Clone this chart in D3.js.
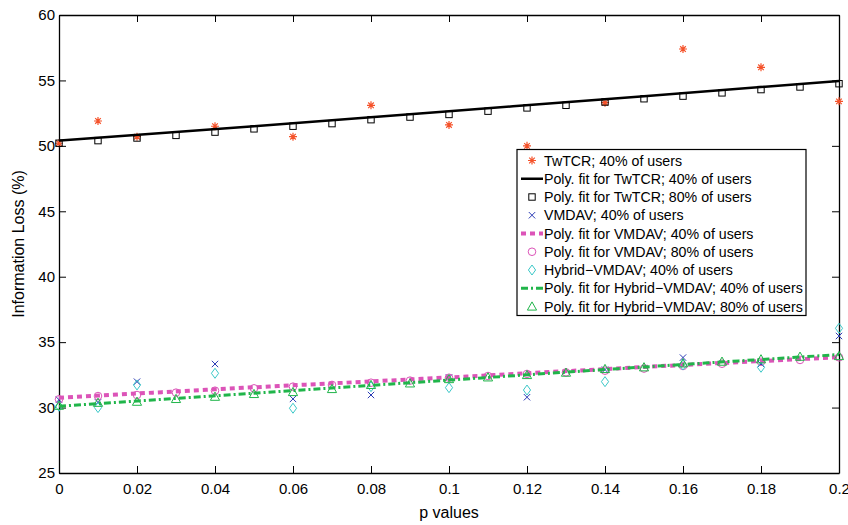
<!DOCTYPE html>
<html>
<head>
<meta charset="utf-8">
<script src="https://cdn.jsdelivr.net/npm/d3@7"></script>
<style>
  body { margin: 0; background: #fff; }
  svg { display: block; font-family: "Liberation Sans", Arial, sans-serif; }
</style>
</head>
<body>
<div id="chart"></div>
<script>
"use strict";

// p values for the 80% series (every 0.01) and the 40% series
const pAll = [0, 0.01, 0.02, 0.03, 0.04, 0.05, 0.06, 0.07, 0.08, 0.09, 0.1,
              0.11, 0.12, 0.13, 0.14, 0.15, 0.16, 0.17, 0.18, 0.19, 0.2];
const pSparse = [0, 0.01, 0.02, 0.04, 0.06, 0.08, 0.1, 0.12, 0.14, 0.16, 0.18, 0.2];
const pFit = [0, 0.05, 0.1, 0.15, 0.2];

const twtcr40 = [50.2, 51.9, 50.7, 51.5, 50.7, 53.1, 51.6, 50.0, 53.3, 57.4, 56.0, 53.4];
const twtcr80 = [50.2, 50.4, 50.6, 50.8, 51.05, 51.3, 51.5, 51.7, 52.0, 52.2, 52.4,
                 52.65, 52.9, 53.1, 53.35, 53.6, 53.8, 54.05, 54.3, 54.5, 54.75];
const twtcrFit = [50.4, 51.5, 52.65, 53.8, 54.96];

const vmdav40 = [30.6, 30.4, 31.98, 33.33, 30.66, 30.96, 32.3, 30.79, 32.9, 33.82, 33.33, 35.47];
const vmdav80 = [30.63, 30.88, 30.96, 31.14, 31.29, 31.47, 31.6, 31.73, 31.9, 32.06, 32.28,
                 32.41, 32.57, 32.69, 32.82, 32.98, 33.18, 33.35, 33.5, 33.64, 33.84];
const vmdavFit = [30.75, 31.55, 32.3, 33.1, 33.85];

const hybrid40 = [30.1, 30.0, 31.73, 32.62, 29.95, 31.6, 31.52, 31.34, 31.98, 33.25, 33.08, 36.06];
const hybrid80 = [30.14, 30.37, 30.45, 30.66, 30.83, 31.04, 31.19, 31.42, 31.73, 31.85, 32.18,
                  32.31, 32.49, 32.67, 32.95, 33.08, 33.38, 33.51, 33.69, 33.89, 33.94];
const hybridFit = [30.1, 31.1, 32.1, 33.1, 34.05];

const xTicks = [0, 0.02, 0.04, 0.06, 0.08, 0.1, 0.12, 0.14, 0.16, 0.18, 0.2];
const yTicks = [25, 30, 35, 40, 45, 50, 55, 60];

const legendLabels = [
    "TwTCR; 40% of users",
    "Poly. fit for TwTCR; 40% of users",
    "Poly. fit for TwTCR; 80% of users",
    "VMDAV; 40% of users",
    "Poly. fit for VMDAV; 40% of users",
    "Poly. fit for VMDAV; 80% of users",
    "Hybrid\u2212VMDAV; 40% of users",
    "Poly. fit for Hybrid\u2212VMDAV; 40% of users",
    "Poly. fit for Hybrid\u2212VMDAV; 80% of users"
];

const width = 848, height = 525;
const mLeft = 59, mRight = 839, mTop = 15, mBottom = 473;

const cOrange = "#f5522a", cBlue = "#2b3bb5", cPink = "#dc54b8",
      cCyan = "#3cc8c8", cGreen = "#20b54a";

const x = d3.scaleLinear([0, 0.2], [mLeft, mRight]);
const y = d3.scaleLinear([25, 60], [mBottom, mTop]);

const svg = d3.select("#chart").append("svg")
    .attr("width", width)
    .attr("height", height);

// axes (MATLAB-style box with inward ticks)
const tick = 7;
svg.append("g")
    .attr("transform", `translate(0,${mBottom})`)
    .call(d3.axisBottom(x).tickValues(xTicks).tickSizeInner(-tick).tickSizeOuter(0)
        .tickPadding(10).tickFormat(d3.format("~g")))
    .call(g => g.select(".domain").attr("stroke-width", 1.3))
    .call(g => g.selectAll("text").attr("font-size", 15).attr("fill", "#000")
        .attr("font-family", "Liberation Sans, Arial, sans-serif"));

svg.append("g")
    .attr("transform", `translate(0,${mTop})`)
    .call(d3.axisTop(x).tickValues(xTicks).tickSizeInner(-tick).tickSizeOuter(0).tickFormat(""))
    .call(g => g.select(".domain").attr("stroke-width", 1.3));

svg.append("g")
    .attr("transform", `translate(${mLeft},0)`)
    .call(d3.axisLeft(y).tickValues(yTicks).tickSizeInner(-tick).tickSizeOuter(0).tickPadding(4))
    .call(g => g.select(".domain").attr("stroke-width", 1.3))
    .call(g => g.selectAll("text").attr("font-size", 15).attr("fill", "#000")
        .attr("font-family", "Liberation Sans, Arial, sans-serif"));

svg.append("g")
    .attr("transform", `translate(${mRight},0)`)
    .call(d3.axisRight(y).tickValues(yTicks).tickSizeInner(-tick).tickSizeOuter(0).tickFormat(""))
    .call(g => g.select(".domain").attr("stroke-width", 1.3));

svg.append("text")
    .attr("x", (mLeft + mRight) / 2)
    .attr("y", 518)
    .attr("text-anchor", "middle")
    .attr("font-size", 16)
    .text("p values");

svg.append("text")
    .attr("transform", `translate(24,${(mTop + mBottom) / 2}) rotate(-90)`)
    .attr("text-anchor", "middle")
    .attr("font-size", 16)
    .text("Information Loss (%)");

// marker shapes drawn around (0,0)
function drawMarker(g, type, color) {
    if (type === "star") {
        const r = 4;
        const d = `M${-r},0H${r}M0,${-r}V${r}M${-r*0.7},${-r*0.7}L${r*0.7},${r*0.7}M${-r*0.7},${r*0.7}L${r*0.7},${-r*0.7}`;
        g.append("path").attr("d", d).attr("stroke", color).attr("stroke-width", 1.2).attr("fill", "none");
    } else if (type === "square") {
        g.append("rect").attr("x", -3.2).attr("y", -3.2).attr("width", 6.4).attr("height", 6.4)
            .attr("fill", "none").attr("stroke", color).attr("stroke-width", 1);
    } else if (type === "cross") {
        const r = 3.2;
        g.append("path").attr("d", `M${-r},${-r}L${r},${r}M${-r},${r}L${r},${-r}`)
            .attr("stroke", color).attr("stroke-width", 1).attr("fill", "none");
    } else if (type === "circle") {
        g.append("circle").attr("r", 3.8).attr("fill", "none").attr("stroke", color).attr("stroke-width", 1);
    } else if (type === "diamond") {
        g.append("path").attr("d", "M0,-5L3.6,0L0,5L-3.6,0Z")
            .attr("fill", "none").attr("stroke", color).attr("stroke-width", 1);
    } else if (type === "triangle") {
        g.append("path").attr("d", "M0,-4.6L4.6,3.6L-4.6,3.6Z")
            .attr("fill", "none").attr("stroke", color).attr("stroke-width", 1);
    }
}

function scatter(ps, vals, type, color) {
    const g = svg.append("g");
    ps.forEach((p, i) => {
        const m = g.append("g").attr("transform", `translate(${x(p)},${y(vals[i])})`);
        drawMarker(m, type, color);
    });
}

const line = d3.line().x(d => x(d[0])).y(d => y(d[1])).curve(d3.curveMonotoneX);

function fitLine(vals, color, w, dash) {
    svg.append("path")
        .attr("d", line(pFit.map((p, i) => [p, vals[i]])))
        .attr("fill", "none")
        .attr("stroke", color)
        .attr("stroke-width", w)
        .attr("stroke-dasharray", dash);
}

scatter(pSparse, twtcr40, "star", cOrange);
fitLine(twtcrFit, "#000", 2.5, null);
scatter(pAll, twtcr80, "square", "#000");
scatter(pSparse, vmdav40, "cross", cBlue);
fitLine(vmdavFit, cPink, 4, "5,4");
scatter(pAll, vmdav80, "circle", cPink);
scatter(pSparse, hybrid40, "diamond", cCyan);
fitLine(hybridFit, cGreen, 3, "7,3,2,3");
scatter(pAll, hybrid80, "triangle", cGreen);

// legend
const legX = 517, legY = 149.5, legW = 289, legH = 166;
const lg = svg.append("g");
lg.append("rect").attr("x", legX).attr("y", legY).attr("width", legW).attr("height", legH)
    .attr("fill", "#fff").attr("stroke", "#000").attr("stroke-width", 1.2);

const legendStyle = [
    { type: "star", color: cOrange },
    { line: true, color: "#000", w: 2.5, dash: null },
    { type: "square", color: "#000" },
    { type: "cross", color: cBlue },
    { line: true, color: cPink, w: 4, dash: "5,4" },
    { type: "circle", color: cPink },
    { type: "diamond", color: cCyan },
    { line: true, color: cGreen, w: 3, dash: "7,3,2,3" },
    { type: "triangle", color: cGreen }
];

legendLabels.forEach((label, i) => {
    const cy = legY + 11 + i * 18.25;
    const st = legendStyle[i];
    if (st.line) {
        lg.append("line").attr("x1", 521).attr("x2", 543).attr("y1", cy).attr("y2", cy)
            .attr("stroke", st.color).attr("stroke-width", st.w).attr("stroke-dasharray", st.dash);
    } else {
        drawMarker(lg.append("g").attr("transform", `translate(532,${cy})`), st.type, st.color);
    }
    lg.append("text").attr("x", 544).attr("y", cy).attr("dy", "0.36em")
        .attr("font-size", 14.2).text(label);
});
</script>
</body>
</html>
